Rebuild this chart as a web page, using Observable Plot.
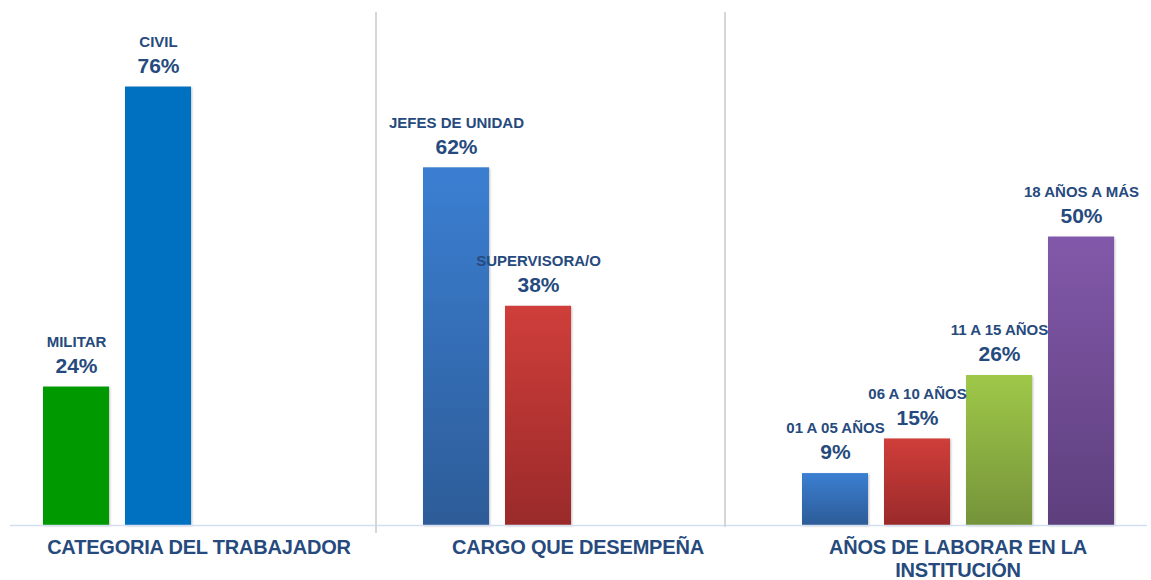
<!DOCTYPE html>
<html>
<head>
<meta charset="utf-8">
<script src="https://cdn.jsdelivr.net/npm/d3@7"></script>
<script src="https://cdn.jsdelivr.net/npm/@observablehq/plot@0.6"></script>
<style>
  body { margin: 0; background: #ffffff; font-family: "Liberation Sans", Arial, sans-serif; }
  #wrap { position: relative; width: 1151px; height: 580px; overflow: hidden; }
  .panel { position: absolute; top: 0; }
  .sep { position: absolute; width: 1.5px; background: #d6d6d6; }
  .title { position: absolute; color: #264a7d; font-weight: bold; font-size: 20px;
           text-align: center; line-height: 23px; letter-spacing: -0.2px; }
  g[aria-label="bar"] { filter: drop-shadow(1px 1px 1px rgba(0,0,0,0.25)); }
</style>
</head>
<body>
<div id="wrap"></div>
<script>
// ---- Data ----
const categoriaLabels = ["MILITAR", "CIVIL"];
const categoriaValues = [24, 76];
const cargoLabels = ["JEFES DE UNIDAD", "SUPERVISORA/O"];
const cargoValues = [62, 38];
const aniosLabels = ["01 A 05 AÑOS", "06 A 10 AÑOS", "11 A 15 AÑOS", "18 AÑOS A MÁS"];
const aniosValues = [9, 15, 26, 50];
const groupTitles = ["CATEGORIA DEL TRABAJADOR", "CARGO QUE DESEMPEÑA", "AÑOS DE LABORAR EN LA INSTITUCIÓN"];

// ---- Styles ----
const textColor = "#264a7d";
const fillsCategoria = [["flat", "#009900"], ["flat", "#0070c0"]];
const fillsCargo = [["gBlue2", "#3b7fd2", "#2d5c98"], ["gRed2", "#cf3e3a", "#9a2a2a"]];
const fillsAnios = [["gBlue3", "#3b7fd2", "#2d5c98"], ["gRed3", "#cf3e3a", "#9a2a2a"],
                    ["gGreen3", "#9fc848", "#75933a"], ["gPurple3", "#8259aa", "#5e3f7d"]];

const wrap = document.getElementById("wrap");

function gradDefs(fills) {
  return () => {
    const defs = d3.create("svg:defs");
    for (const f of fills) {
      if (f[0] === "flat") continue;
      const g = defs.append("linearGradient").attr("id", f[0])
        .attr("x1", 0).attr("y1", 0).attr("x2", 0).attr("y2", 1);
      g.append("stop").attr("offset", "0%").attr("stop-color", f[1]);
      g.append("stop").attr("offset", "100%").attr("stop-color", f[2]);
    }
    return defs.node();
  };
}

function panel(labels, values, fills, opts) {
  const data = labels.map((label, i) => ({label, value: values[i]}));
  const fillOf = (d, i) => fills[i][0] === "flat" ? fills[i][1] : `url(#${fills[i][0]})`;
  const chart = Plot.plot({
    width: opts.width,
    height: 530,
    marginTop: 0,
    marginBottom: 5,
    marginLeft: opts.ml,
    marginRight: opts.mr,
    style: {fontFamily: "'Liberation Sans', Arial, sans-serif", background: "transparent"},
    x: {domain: labels, range: opts.xRange, paddingInner: 0.2, paddingOuter: 0.1, axis: null},
    y: {domain: [0, 91], axis: null},
    color: {type: "identity"},
    marks: [
      gradDefs(fills),
      Plot.barY(data, {x: "label", y: "value", fill: fillOf}),
      Plot.ruleY([0], {stroke: "#d3dff0", strokeWidth: 1.5}),
      Plot.text(data, {x: "label", y: "value", text: "label", dy: -45,
        fontSize: 15, fontWeight: "bold", fill: textColor}),
      Plot.text(data, {x: "label", y: "value", text: d => d.value + "%", dy: -21,
        fontSize: 21, fontWeight: "bold", fill: textColor})
    ]
  });
  const div = document.createElement("div");
  div.className = "panel";
  div.style.left = opts.left + "px";
  div.appendChild(chart);
  wrap.appendChild(div);
}

panel(categoriaLabels, categoriaValues, fillsCategoria,
  {left: 0, width: 375, ml: 10, mr: 0, xRange: [35, 199]});
panel(cargoLabels, cargoValues, fillsCargo,
  {left: 375, width: 349, ml: 0, mr: 0, xRange: [39, 204]});
panel(aniosLabels, aniosValues, fillsAnios,
  {left: 724, width: 427, ml: 0, mr: 4, xRange: [70, 398]});

// separators
[[375, 12, 533], [724, 12, 527]].forEach(([x, y0, y1]) => {
  const s = document.createElement("div");
  s.className = "sep";
  s.style.left = x + "px"; s.style.top = y0 + "px"; s.style.height = (y1 - y0) + "px";
  wrap.appendChild(s);
});

// group titles
[[199, 360], [578, 340], [958, 300]].forEach(([cx, w], i) => {
  const t = document.createElement("div");
  t.className = "title";
  t.textContent = groupTitles[i];
  t.style.left = (cx - w / 2) + "px";
  t.style.width = w + "px";
  t.style.top = "536px";
  wrap.appendChild(t);
});
</script>
</body>
</html>
